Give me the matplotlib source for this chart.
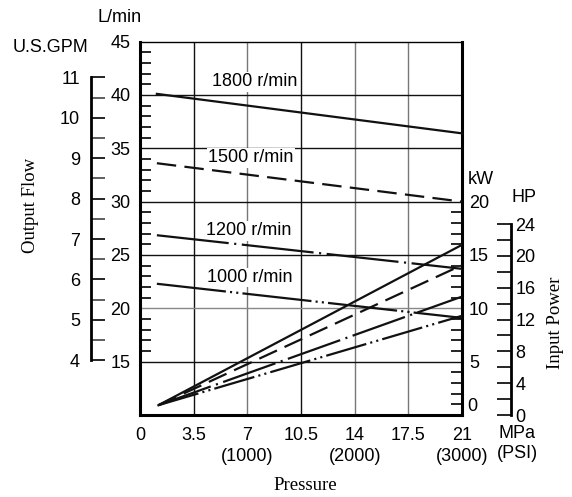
import matplotlib
matplotlib.use('Agg')
import matplotlib.pyplot as plt
from matplotlib.ticker import FixedLocator

plt.rcParams['font.family'] = ['Liberation Sans', 'DejaVu Sans']
plt.rcParams['lines.scale_dashes'] = False

# 数据
speeds = ['1800 r/min', '1500 r/min', '1200 r/min', '1000 r/min']
flow_p = [1.1, 21]            # MPa
flow_1800 = [40.1, 36.4]      # L/min
flow_1500 = [33.6, 30.0]
flow_1200 = [26.85, 23.7]
flow_1000 = [22.3, 19.1]
power_p = [1.2, 21]           # MPa
power_1800 = [0.92, 15.95]    # kW
power_1500 = [0.92, 14.05]
power_1200 = [0.92, 11.1]
power_1000 = [0.92, 9.3]
label_x = [7.48, 7.22, 7.09, 7.19]
label_y = [41.25, 34.1, 27.28, 22.89]

x_ticks = [0, 3.5, 7, 10.5, 14, 17.5, 21]
x_labels = ['0', '3.5', '7\n(1000)', '10.5', '14\n(2000)', '17.5', '21\n(3000)']
grid_x = [3.5, 7, 10.5, 14, 17.5]
grid_x_col = ['#111111', '#777777', '#111111', '#777777', '#777777']
grid_y = [40, 35, 30, 25, 20, 15]
grid_y_col = ['#111111', '#111111', '#111111', '#111111', '#888888', '#111111']

LPM_PER_GPM = 3.785
HP_PER_KW = 1.341

W, H = 572, 497
fs = 13
fs_serif = 13.5
fig = plt.figure(figsize=(W / 100, H / 100), dpi=100)
x0, x1, y0, y1 = 140, 462, 41.6, 415
rect = [x0 / W, 1 - y1 / H, (x1 - x0) / W, (y1 - y0) / H]
ax = fig.add_axes(rect)
ymin, ymax = 10.0, 45
ax.set_xlim(0, 21)
ax.set_ylim(ymin, ymax)

# 网格线
for gx, c in zip(grid_x, grid_x_col):
    ax.axvline(gx, color=c, lw=1, zorder=1)
for gy, c in zip(grid_y, grid_y_col):
    ax.axhline(gy, color=c, lw=1, zorder=1)

# 边框
ax.spines['top'].set_linewidth(1)
for s in ['left', 'right', 'bottom']:
    ax.spines[s].set_linewidth(2.2)

# 左轴 L/min
ax.yaxis.set_major_locator(FixedLocator([15, 20, 25, 30, 35, 40, 45]))
ax.yaxis.set_minor_locator(FixedLocator([v for v in range(15, 46) if v % 5]))
ax.tick_params(axis='y', which='major', direction='in', length=0, pad=7, labelsize=fs)
ax.tick_params(axis='y', which='minor', direction='in', length=8, width=1.2)
ax.set_xticks(x_ticks)
ax.set_xticklabels(x_labels, fontsize=fs)
for t in ax.get_xticklabels():
    t.set_linespacing(1.25)
    t.set_verticalalignment('top')
ax.tick_params(axis='x', length=0, pad=9)

# 输出流量曲线
styles = ['-', (0, (14, 6)), (0, (52, 4, 1.5, 4)), (0, (50, 3, 1.5, 3, 1.5, 3))]
flows = [flow_1800, flow_1500, flow_1200, flow_1000]
for f, ls in zip(flows, styles):
    ax.plot(flow_p, f, color='#111111', lw=1.6, ls=ls, zorder=3, clip_on=False)
for name, lx, ly in zip(speeds, label_x, label_y):
    ax.text(lx, ly, name, fontsize=fs, ha='center', va='center', zorder=2,
            bbox=dict(facecolor='white', edgecolor='none', pad=1))

# kW 轴
ax_k = ax.twinx()
ax_k.set_ylim(ymin - 10, ymax - 10)
for s in ax_k.spines.values():
    s.set_visible(False)
ax_k.yaxis.set_major_locator(FixedLocator([5, 10, 15, 20]))
ax_k.yaxis.set_minor_locator(FixedLocator([v for v in range(0, 21) if v % 5]))
ax_k.tick_params(axis='y', which='major', direction='in', length=0, pad=5, labelsize=fs)
ax_k.tick_params(axis='y', which='minor', direction='in', length=8, width=1.2)
ax_k.text(1.015, 0.8, '0', transform=ax_k.get_yaxis_transform(), fontsize=fs,
          ha='left', va='center')
powers = [power_1800, power_1500, power_1200, power_1000]
styles_p = ['-', (0, (14, 6)), (0, (40, 4, 1.5, 4)), (0, (30, 3, 1.5, 3, 1.5, 3))]
for pw, ls in zip(powers, styles_p):
    ax_k.plot(power_p, pw, color='#111111', lw=1.6, ls=ls, zorder=3)

# U.S.GPM 轴
ax_g = fig.add_axes(rect, frameon=True)
ax_g.patch.set_visible(False)
for s in ['top', 'right', 'bottom']:
    ax_g.spines[s].set_visible(False)
ax_g.spines['left'].set_position(('axes', (91 - x0) / (x1 - x0)))
ax_g.spines['left'].set_bounds(4, 11)
ax_g.spines['left'].set_linewidth(2)
ax_g.set_xticks([])
ax_g.set_ylim(ymin / LPM_PER_GPM, ymax / LPM_PER_GPM)
ax_g.yaxis.set_major_locator(FixedLocator(list(range(4, 12))))
ax_g.yaxis.set_minor_locator(FixedLocator([v + 0.5 for v in range(4, 11)]))
ax_g.tick_params(axis='y', which='major', direction='in', length=10, width=1.2, pad=8, labelsize=fs)
ax_g.tick_params(axis='y', which='minor', direction='in', length=10, width=1.2, color='#444444')

# HP 轴
ax_h = fig.add_axes(rect, frameon=True)
ax_h.patch.set_visible(False)
for s in ['top', 'left', 'bottom']:
    ax_h.spines[s].set_visible(False)
ax_h.spines['right'].set_position(('axes', (511 - x0) / (x1 - x0)))
ax_h.spines['right'].set_bounds(0, 24)
ax_h.spines['right'].set_linewidth(2)
ax_h.set_xticks([])
ax_h.set_ylim((ymin - 10) * HP_PER_KW, (ymax - 10) * HP_PER_KW)
ax_h.yaxis.tick_right()
ax_h.yaxis.set_major_locator(FixedLocator(list(range(0, 25, 4))))
ax_h.yaxis.set_minor_locator(FixedLocator(list(range(2, 25, 4))))
ax_h.tick_params(axis='y', which='major', direction='in', length=10, width=1.2, pad=3, labelsize=fs)
ax_h.tick_params(axis='y', which='minor', direction='in', length=10, width=1.2)

# 文字
def ftext(px, py, s, **kw):
    fig.text(px / W, 1 - py / H, s, **kw)

ftext(119.5, 18, 'L/min', fontsize=fs, ha='center', va='center')
ftext(51, 48, 'U.S.GPM', fontsize=fs, ha='center', va='center')
ftext(481, 179, 'kW', fontsize=fs, ha='center', va='center')
ftext(524, 197, 'HP', fontsize=fs, ha='center', va='center')
ftext(517, 425, 'MPa\n(PSI)', fontsize=fs, ha='center', va='top', linespacing=1.25)
ftext(305, 486, 'Pressure', fontsize=fs_serif, ha='center', va='center', family='Liberation Serif')
ftext(31, 205, 'Output Flow', fontsize=fs_serif, ha='center', va='center', rotation=90,
      family='Liberation Serif')
ftext(556, 323, 'Input Power', fontsize=fs_serif, ha='center', va='center', rotation=90,
      family='Liberation Serif')

fig.savefig('out.png', dpi=100)
